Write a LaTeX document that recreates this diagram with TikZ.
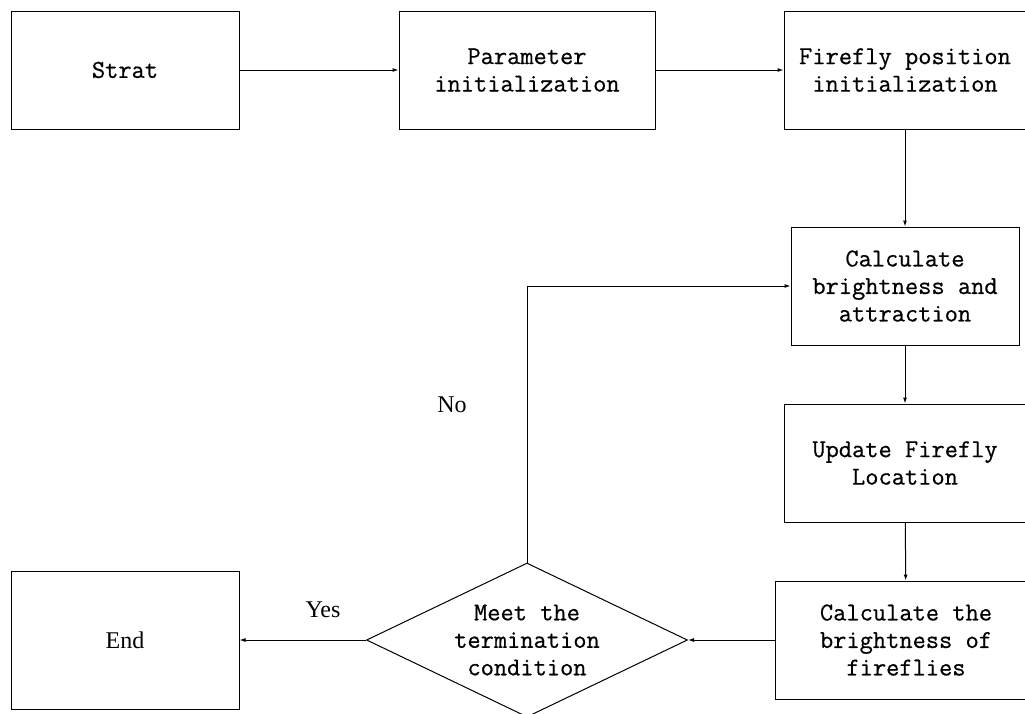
\documentclass[tikz,border=0pt]{standalone}
\usepackage{fontspec}
\setmainfont{Liberation Serif}
\setmonofont[FakeBold=0.6]{Latin Modern Mono}
\usetikzlibrary{arrows.meta,shapes.geometric}

\tikzset{
    stepbox/.style={draw, line width=1pt, align=center, inner sep=0pt,
        font=\ttfamily\fontsize{25.7}{27.5}\selectfont},
    decision/.style={diamond, draw, line width=1pt, align=center, inner sep=0pt,
        aspect=2.08, minimum width=321pt, minimum height=154pt,
        font=\ttfamily\fontsize{25.7}{27.5}\selectfont},
    flow/.style={draw, line width=1pt, -{Latex[length=6pt,width=4pt]}},
    answer/.style={font=\fontsize{24}{28}\selectfont}
}

\begin{document}
\begin{tikzpicture}[x=1pt, y=-1pt]
    \useasboundingbox (0,0) rectangle (1025,713);

    % Fila superior
    \node[stepbox, minimum width=228pt, minimum height=118pt] (start) at (125,70)  {Strat};
    \node[stepbox, minimum width=256pt, minimum height=118pt] (param) at (527,70)  {Parameter\\initialization};
    \node[stepbox, minimum width=242pt, minimum height=118pt] (pos)   at (905,70)  {Firefly position\\initialization};

    % Columna derecha
    \node[stepbox, minimum width=228pt, minimum height=118pt] (attr)   at (905,286) {Calculate\\brightness and\\attraction};
    \node[stepbox, minimum width=242pt, minimum height=118pt] (update) at (905,463) {Update Firefly\\Location};
    \node[stepbox, minimum width=262pt, minimum height=118pt] (bright) at (906,640) {Calculate the\\brightness of\\fireflies};

    % Decision y fin
    \node[decision] (check) at (527,640) {Meet the\\termination\\condition};
    \node[draw, line width=1pt, minimum width=228pt, minimum height=138pt,
          font=\fontsize{24}{28}\selectfont] (finish) at (125,640) {End};

    % Flechas
    \draw[flow] (start) -- (param);
    \draw[flow] (param) -- (pos);
    \draw[flow] (pos) -- (attr);
    \draw[flow] (attr) -- (update);
    \draw[flow] (update) -- (bright);
    \draw[flow] (bright) -- (check);
    \draw[flow] (check) -- (finish);
    \draw[flow] (check.north) |- (attr.west);

    % Etiquetas
    \node[answer] (no)  at (452,405) {No};
    \node[answer] (yes) at (323,610) {Yes};
\end{tikzpicture}
\end{document}
